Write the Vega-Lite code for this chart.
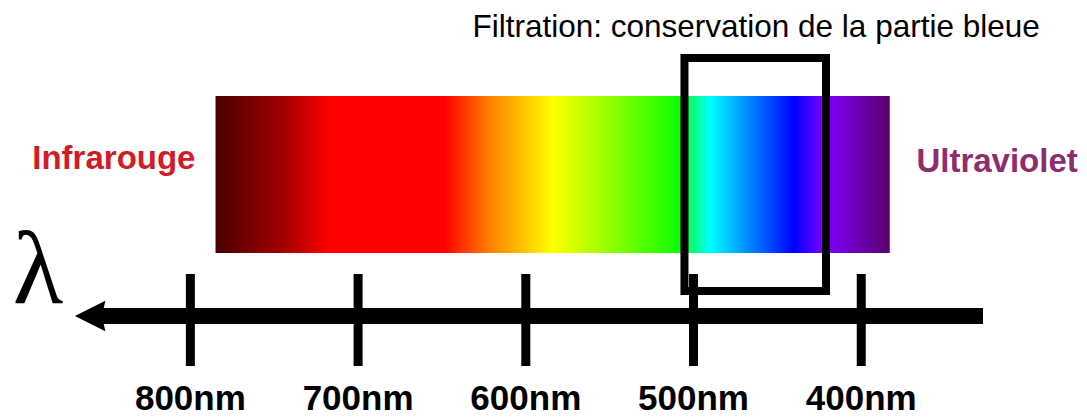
{
  "$schema": "https://vega.github.io/schema/vega-lite/v6.json",
  "width": 1087,
  "height": 417,
  "padding": 0,
  "autosize": {"type": "none"},
  "background": "white",
  "config": {"view": {"stroke": null}},
  "layer": [
    {
      "data": {"values": [{"debut": 785, "fin": 383, "haut": 96, "bas": 253}]},
      "mark": {
        "type": "rect",
        "color": {
          "gradient": "linear", "x1": 0, "x2": 1, "y1": 0, "y2": 0,
          "stops": [
            {"offset": 0, "color": "#4a0000"},
            {"offset": 0.099, "color": "#a00000"},
            {"offset": 0.17, "color": "#ff0000"},
            {"offset": 0.34, "color": "#ff0000"},
            {"offset": 0.407, "color": "#ff8000"},
            {"offset": 0.5, "color": "#ffff00"},
            {"offset": 0.686, "color": "#10ff00"},
            {"offset": 0.733, "color": "#00ffff"},
            {"offset": 0.858, "color": "#0000ff"},
            {"offset": 0.904, "color": "#8000ff"},
            {"offset": 1, "color": "#5a006e"}
          ]
        }
      },
      "encoding": {
        "x": {"field": "debut", "type": "quantitative", "scale": {"domain": [265.4, 913.5], "reverse": true, "nice": false, "zero": false}, "axis": null},
        "x2": {"field": "fin"},
        "y": {"field": "haut", "type": "quantitative", "scale": {"domain": [0, 417], "reverse": true, "nice": false, "zero": false}, "axis": null},
        "y2": {"field": "bas"}
      }
    },
    {
      "data": {"values": [{"debut": 505.4, "fin": 421, "haut": 58, "bas": 291}]},
      "mark": {"type": "rect", "fill": "transparent", "stroke": "black", "strokeWidth": 8},
      "encoding": {
        "x": {"field": "debut", "type": "quantitative", "scale": {"domain": [265.4, 913.5], "reverse": true, "nice": false, "zero": false}, "axis": null},
        "x2": {"field": "fin"},
        "y": {"field": "haut", "type": "quantitative", "scale": {"domain": [0, 417], "reverse": true, "nice": false, "zero": false}, "axis": null},
        "y2": {"field": "bas"}
      }
    },
    {
      "data": {"values": [{"debut": 855, "fin": 327.4, "niveau": 316}]},
      "mark": {"type": "rule", "color": "black", "strokeWidth": 16, "strokeCap": "butt"},
      "encoding": {
        "x": {"field": "debut", "type": "quantitative", "scale": {"domain": [265.4, 913.5], "reverse": true, "nice": false, "zero": false}, "axis": null},
        "x2": {"field": "fin"},
        "y": {"field": "niveau", "type": "quantitative", "scale": {"domain": [0, 417], "reverse": true, "nice": false, "zero": false}, "axis": null}
      }
    },
    {
      "data": {"values": [{"pos": 859.3, "niveau": 316}]},
      "mark": {"type": "point", "shape": "M -1 0 L 0.9 -0.95 L 0.7 0 L 0.9 0.95 Z", "filled": true, "color": "black", "opacity": 1, "size": 1024},
      "encoding": {
        "x": {"field": "pos", "type": "quantitative", "scale": {"domain": [265.4, 913.5], "reverse": true, "nice": false, "zero": false}, "axis": null},
        "y": {"field": "niveau", "type": "quantitative", "scale": {"domain": [0, 417], "reverse": true, "nice": false, "zero": false}, "axis": null}
      }
    },
    {
      "data": {"values": [
        {"nm": 800, "haut": 274, "bas": 366, "label": "800nm"},
        {"nm": 700, "haut": 274, "bas": 366, "label": "700nm"},
        {"nm": 600, "haut": 274, "bas": 366, "label": "600nm"},
        {"nm": 500, "haut": 274, "bas": 366, "label": "500nm"},
        {"nm": 400, "haut": 274, "bas": 366, "label": "400nm"}
      ]},
      "layer": [
        {
          "mark": {"type": "rule", "color": "black", "strokeWidth": 9, "strokeCap": "butt"},
          "encoding": {
            "x": {"field": "nm", "type": "quantitative", "scale": {"domain": [265.4, 913.5], "reverse": true, "nice": false, "zero": false}, "axis": null},
            "y": {"field": "haut", "type": "quantitative", "scale": {"domain": [0, 417], "reverse": true, "nice": false, "zero": false}, "axis": null},
            "y2": {"field": "bas"}
          }
        },
        {
          "mark": {"type": "text", "font": "Liberation Sans", "fontWeight": "bold", "fontSize": 35, "align": "center", "baseline": "alphabetic", "color": "black", "dy": 44},
          "encoding": {
            "x": {"field": "nm", "type": "quantitative", "scale": {"domain": [265.4, 913.5], "reverse": true, "nice": false, "zero": false}, "axis": null},
            "y": {"field": "bas", "type": "quantitative", "scale": {"domain": [0, 417], "reverse": true, "nice": false, "zero": false}, "axis": null},
            "text": {"field": "label"}
          }
        }
      ]
    },
    {
      "data": {"values": [
        {"pos": 845.6, "niveau": 169, "texte": "Infrarouge"},
        {"pos": 319, "niveau": 172, "texte": "Ultraviolet"}
      ]},
      "mark": {"type": "text", "font": "Liberation Sans", "fontWeight": "bold", "fontSize": 33, "align": "center", "baseline": "alphabetic"},
      "encoding": {
        "x": {"field": "pos", "type": "quantitative", "scale": {"domain": [265.4, 913.5], "reverse": true, "nice": false, "zero": false}, "axis": null},
        "y": {"field": "niveau", "type": "quantitative", "scale": {"domain": [0, 417], "reverse": true, "nice": false, "zero": false}, "axis": null},
        "text": {"field": "texte"},
        "color": {"field": "texte", "type": "nominal", "scale": {"domain": ["Infrarouge", "Ultraviolet"], "range": ["#d01c27", "#8e2c6e"]}, "legend": null}
      }
    },
    {
      "data": {"values": [{"pos": 890.9, "niveau": 303, "texte": "λ"}]},
      "mark": {"type": "text", "font": "Liberation Serif", "fontSize": 104, "align": "center", "baseline": "alphabetic", "color": "black"},
      "encoding": {
        "x": {"field": "pos", "type": "quantitative", "scale": {"domain": [265.4, 913.5], "reverse": true, "nice": false, "zero": false}, "axis": null},
        "y": {"field": "niveau", "type": "quantitative", "scale": {"domain": [0, 417], "reverse": true, "nice": false, "zero": false}, "axis": null},
        "text": {"field": "texte"}
      }
    },
    {
      "data": {"values": [{"pos": 462.7, "niveau": 37, "texte": "Filtration: conservation de la partie bleue"}]},
      "mark": {"type": "text", "font": "Liberation Sans", "fontSize": 31.5, "align": "center", "baseline": "alphabetic", "color": "black"},
      "encoding": {
        "x": {"field": "pos", "type": "quantitative", "scale": {"domain": [265.4, 913.5], "reverse": true, "nice": false, "zero": false}, "axis": null},
        "y": {"field": "niveau", "type": "quantitative", "scale": {"domain": [0, 417], "reverse": true, "nice": false, "zero": false}, "axis": null},
        "text": {"field": "texte"}
      }
    }
  ]
}
